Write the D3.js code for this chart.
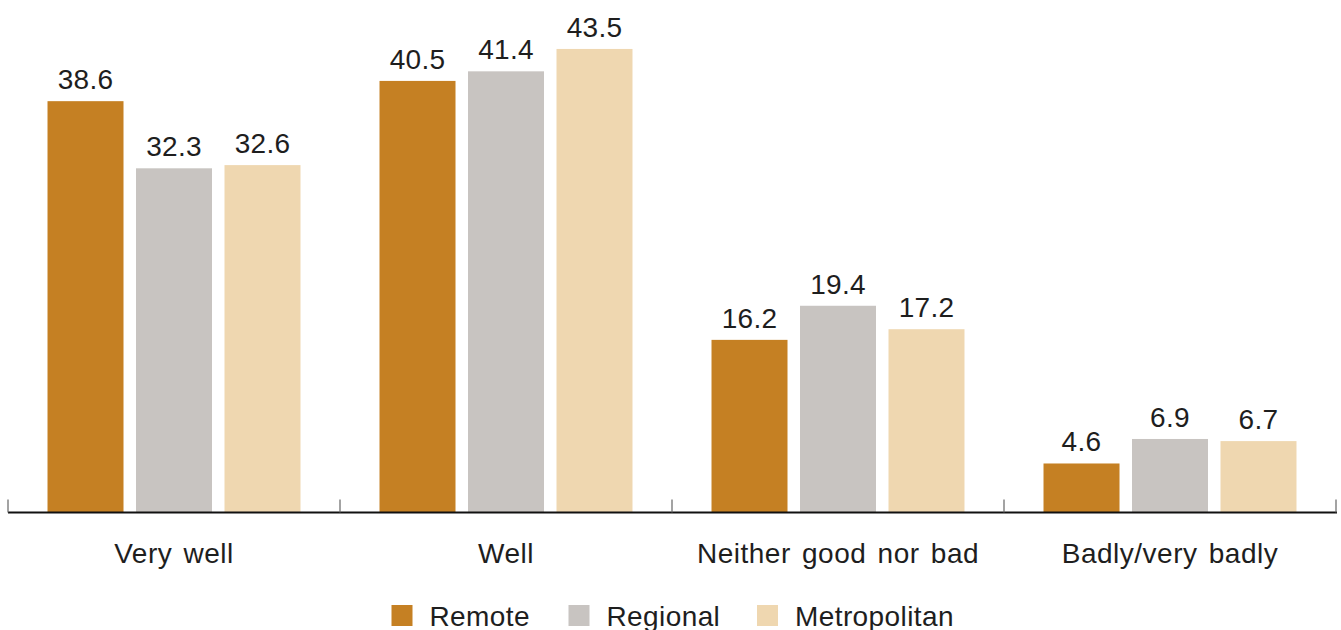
<!DOCTYPE html>
<html>
<head>
<meta charset="utf-8">
<script src="https://cdn.jsdelivr.net/npm/d3@7/dist/d3.min.js"></script>
<style>
  html, body { margin: 0; padding: 0; background: #fff; }
  svg { display: block; }
  text { font-family: "Liberation Sans", Arial, Helvetica, sans-serif; fill: #1e1e1e; }
</style>
</head>
<body>
<svg id="chart" width="1341" height="630"></svg>
<script>
const categories = ["Very well", "Well", "Neither good nor bad", "Badly/very badly"];
const seriesNames = ["Remote", "Regional", "Metropolitan"];
const remote = [38.6, 40.5, 16.2, 4.6];
const regional = [32.3, 41.4, 19.4, 6.9];
const metropolitan = [32.6, 43.5, 17.2, 6.7];
const colors = ["#c58023", "#c8c4c1", "#efd7b0"];

const seriesValues = [remote, regional, metropolitan];
const data = categories.map((c, i) => ({
  category: c,
  values: seriesNames.map((s, j) => ({ series: s, value: seriesValues[j][i] }))
}));

const svg = d3.select("#chart");
const baseY = 512.5;

const x0 = d3.scaleBand().domain(categories).range([8, 1336]).paddingInner(0.238).paddingOuter(0.119);
const x1 = d3.scaleBand().domain(seriesNames).range([0, x0.bandwidth()]).paddingInner(0.1412).paddingOuter(0);
const y = d3.scaleLinear().domain([0, 48]).range([baseY, 1]);
const color = d3.scaleOrdinal().domain(seriesNames).range(colors);

const groups = svg.append("g").selectAll("g").data(data).join("g")
  .attr("transform", d => `translate(${x0(d.category)},0)`);

groups.selectAll("rect").data(d => d.values).join("rect")
  .attr("x", d => x1(d.series))
  .attr("y", d => y(d.value))
  .attr("width", x1.bandwidth())
  .attr("height", d => y(0) - y(d.value))
  .attr("fill", d => color(d.series));

groups.selectAll("text.val").data(d => d.values).join("text")
  .attr("class", "val")
  .attr("x", d => x1(d.series) + x1.bandwidth() / 2)
  .attr("y", d => y(d.value) - 12)
  .attr("text-anchor", "middle")
  .style("font-size", "28px")
  .style("letter-spacing", "0.3px")
  .text(d => d.value.toFixed(1));

// axis line
const step = x0.step();
const r = x0.range();
svg.append("line")
  .attr("x1", r[0]).attr("x2", r[1] + 1)
  .attr("y1", baseY).attr("y2", baseY)
  .attr("stroke", "#111").attr("stroke-width", 2);

// boundary ticks (upward)
const bounds = d3.range(categories.length + 1).map(i => r[0] + i * step);
svg.append("g").selectAll("line").data(bounds).join("line")
  .attr("x1", d => d).attr("x2", d => d)
  .attr("y1", baseY).attr("y2", baseY - 13)
  .attr("stroke", "#666").attr("stroke-width", 1.2);

// category labels
const xAxis = d3.axisBottom(x0).tickSize(0).tickPadding(0);
const ax = svg.append("g").attr("transform", `translate(0,${baseY})`).call(xAxis);
ax.select(".domain").remove();
ax.selectAll("text")
  .attr("dy", null)
  .attr("y", 50.5)
  .style("font-size", "28px")
  .style("letter-spacing", "0.5px")
  .style("word-spacing", "3px")
  .style("font-family", "'Liberation Sans', Arial, sans-serif")
  .attr("fill", "#1e1e1e");

// legend
const legendX = [391.5, 568.5, 757];
const legend = svg.append("g").selectAll("g").data(seriesNames).join("g")
  .attr("transform", (d, i) => `translate(${legendX[i]},605)`);
legend.append("rect").attr("width", 21).attr("height", 21).attr("fill", d => color(d));
legend.append("text").attr("x", 38).attr("y", 20.5).style("font-size", "28px")
  .style("letter-spacing", "0.4px").text(d => d);
</script>
</body>
</html>
